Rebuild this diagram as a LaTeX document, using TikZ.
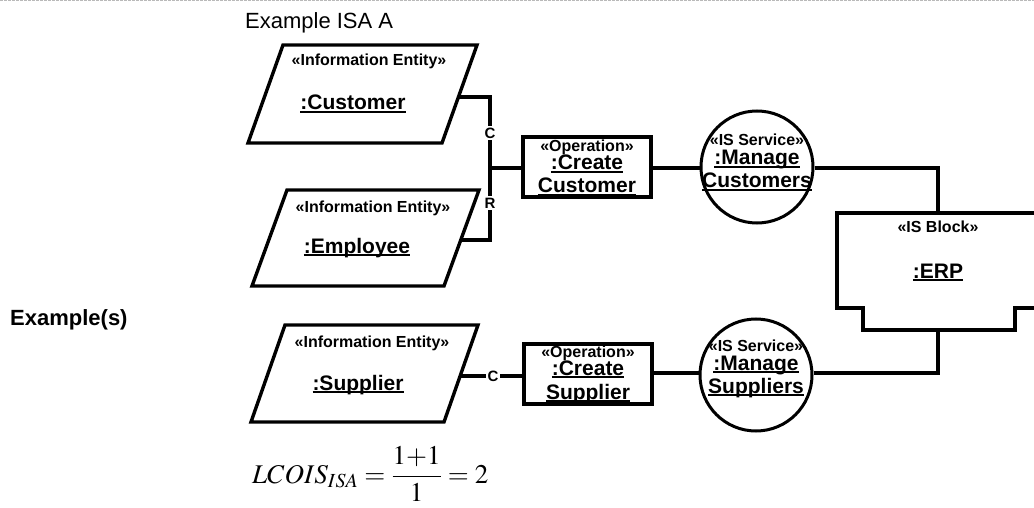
\documentclass[tikz,border=0pt]{standalone}
\usepackage{mathptmx}
\usepackage[no-math]{fontspec}
\setmainfont{Liberation Sans}
\newcommand\ulx[1]{\setbox0\hbox{#1}\rlap{\rule[-2.8pt]{\wd0}{1.5pt}}\box0}
\tikzset{
  thick line/.style={line width=3.4pt, line join=miter},
  opbox/.style={rectangle, draw, line width=3.4pt, minimum width=128pt, minimum height=60pt, inner sep=0pt},
  svc/.style={circle, draw, line width=3pt, minimum size=112pt, inner sep=0pt},
  ster/.style={inner sep=0pt, anchor=base, font=\bfseries\fontsize{16}{18}\selectfont},
  nm/.style={inner sep=0pt, anchor=base, font=\bfseries\fontsize{21}{23}\selectfont},
  lbl/.style={fill=white, inner sep=1.5pt, font=\bfseries\fontsize{15}{17}\selectfont},
  conn/.style={line width=3.2pt}
}
\begin{document}
\begin{tikzpicture}[x=1pt,y=-1pt]
\useasboundingbox (0,0) rectangle (1034,508);
\draw[gray!55, line width=1.2pt, dash pattern=on 3pt off 1pt] (0,0.6) -- (1034,0.6);

\node[anchor=base west, inner sep=0pt, font=\fontsize{22}{24}\selectfont] (title) at (245,29) {Example ISA A};
\node[anchor=base west, inner sep=0pt, font=\bfseries\fontsize{22}{24}\selectfont] (ex) at (10,325) {Example(s)};

% information entities
\draw[thick line] (283,45) -- (477,45) -- (442,143) -- (248,143) -- cycle;
\coordinate (cust) at (458.4,97);
\node[ster] (custS) at (369,66) {«Information Entity»};
\node[nm] (custN) at (353,110) {\ulx{:Customer}};

\draw[thick line] (287,190) -- (479,190) -- (444,286) -- (252,286) -- cycle;
\coordinate (emp) at (460.8,240);
\node[ster] (empS) at (373,212) {«Information Entity»};
\node[nm] (empN) at (357,253) {\ulx{:Employee}};

\draw[thick line] (285,325) -- (478,325) -- (444,422) -- (251,422) -- cycle;
\coordinate (sup) at (460,376);
\node[ster] (supS) at (372,347) {«Information Entity»};
\node[nm] (supN) at (358,390) {\ulx{:Supplier}};

% operations
\node[opbox] (cc) at (587,167) {};
\node[ster] (ccS) at (587,152) {«Operation»};
\node[nm] (ccN1) at (587,170) {\ulx{:Create}};
\node[nm] (ccN2) at (587,193) {\ulx{Customer}};

\node[opbox] (cs) at (588,374) {};
\node[ster] (csS) at (588,357) {«Operation»};
\node[nm] (csN1) at (588,375) {\ulx{:Create}};
\node[nm] (csN2) at (588,399) {\ulx{Supplier}};

% services
\node[svc] (mc) at (757,167) {};
\node[ster] (mcS) at (757,146) {«IS Service»};
\node[nm] (mcN1) at (757,165) {\ulx{:Manage}};
\node[nm] (mcN2) at (757,188) {\ulx{Customers}};

\node[svc] (ms) at (756,375) {};
\node[ster] (msS) at (756,351) {«IS Service»};
\node[nm] (msN1) at (756,370) {\ulx{:Manage}};
\node[nm] (msN2) at (756,393) {\ulx{Suppliers}};

% IS block
\draw[thick line] (1040,213) -- (837,213) -- (837,308) -- (863,308) -- (863,330)
   -- (1015,330) -- (1015,308) -- (1040,308);
\coordinate (erpT) at (938,213);
\coordinate (erpB) at (938,330);
\node[ster] (erpS) at (938,233) {«IS Block»};
\node[nm] (erpN) at (938,278) {\ulx{:ERP}};

% connectors
\coordinate (jn) at (490,168);
\draw[conn] (cust) -| (jn) |- (emp);
\draw[conn] (jn) -- (jn -| cc.west);
\node[lbl] (lc1) at (490,133) {C};
\node[lbl] (lr1) at (490,203) {R};
\draw[conn] (sup) -- (sup -| cs.west);
\node[lbl] (lc2) at (493,376) {C};
\draw[conn] (cc.east |- 0,168) -- (mc.west |- 0,168);
\draw[conn] (cs.east |- 0,373) -- (ms.west |- 0,373);
\draw[conn] (mc.east |- 0,168) -| (erpT);
\draw[conn] (ms.east |- 0,373) -| (erpB);

% formula
\node[inner sep=0pt, anchor=base west, font=\fontsize{27}{29}\selectfont] (lcois) at (252,483)
  {$\displaystyle LCOIS_{ISA}=\frac{1{+}1}{1}=2$};
\end{tikzpicture}
\end{document}
